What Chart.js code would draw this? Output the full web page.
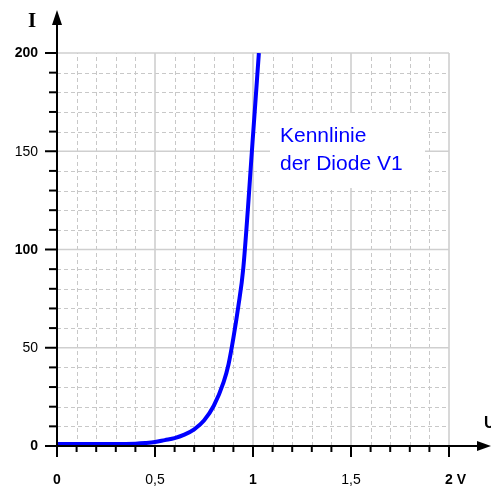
<!DOCTYPE html>
<html>
<head>
<meta charset="utf-8">
<script src="https://cdn.jsdelivr.net/npm/chart.js@4/dist/chart.umd.min.js"></script>
<style>
html,body{margin:0;padding:0;background:#fff;}
#wrap{width:491px;height:486px;position:relative;}
</style>
</head>
<body>
<div id="wrap"><canvas id="c" width="491" height="486"></canvas></div>
<script>
// Data
const voltage = [0, 0.1, 0.2, 0.3, 0.4, 0.45, 0.5, 0.55, 0.6, 0.65, 0.7, 0.75, 0.8, 0.85, 0.875, 0.9, 0.925, 0.95, 1.0, 1.03];
const current = [1, 1, 1, 1, 1.2, 1.5, 2, 3, 4, 5.8, 8.5, 13, 20.5, 32.5, 41.5, 55, 71, 90, 158, 200];
const xTickValues = [0, 0.5, 1, 1.5, 2];
const xTickLabels = ['0', '0,5', '1', '1,5', '2 V'];
const xTickBold = [true, false, true, false, true];
const yTickValues = [0, 50, 100, 150, 200];
const yTickLabels = ['0', '50', '100', '150', '200'];
const yTickBold = [true, false, true, false, true];
const annotationLines = ['Kennlinie', 'der Diode V1'];
const yAxisTitle = 'I';
const xAxisTitle = 'U';

const FONT = '"Liberation Sans", Arial, sans-serif';

const decor = {
  id: 'decor',
  beforeDatasetsDraw(chart) {
    const ctx = chart.ctx;
    const xs = chart.scales.x, ys = chart.scales.y;
    const x0 = xs.getPixelForValue(0), x2 = xs.getPixelForValue(2);
    const y0 = ys.getPixelForValue(0), y200 = ys.getPixelForValue(200);
    ctx.save();
    // minor dashed grid
    ctx.strokeStyle = '#c8c8c8';
    ctx.lineWidth = 1;
    ctx.setLineDash([4, 3]);
    for (let i = 1; i < 20; i++) {
      if (i % 5 === 0) continue;
      const px = Math.round(xs.getPixelForValue(i / 10)) + 0.5;
      ctx.beginPath(); ctx.moveTo(px, y0); ctx.lineTo(px, y200); ctx.stroke();
    }
    for (let v = 10; v < 200; v += 10) {
      if (v % 50 === 0) continue;
      const py = Math.round(ys.getPixelForValue(v)) + 0.5;
      ctx.beginPath(); ctx.moveTo(x0, py); ctx.lineTo(x2, py); ctx.stroke();
    }
    // major solid grid
    ctx.setLineDash([]);
    ctx.strokeStyle = '#cfcfcf';
    ctx.lineWidth = 1.6;
    xTickValues.forEach(v => {
      if (v === 0) return;
      const px = xs.getPixelForValue(v);
      ctx.beginPath(); ctx.moveTo(px, y0); ctx.lineTo(px, y200); ctx.stroke();
    });
    yTickValues.forEach(v => {
      if (v === 0) return;
      const py = ys.getPixelForValue(v);
      ctx.beginPath(); ctx.moveTo(x0, py); ctx.lineTo(x2, py); ctx.stroke();
    });
    // white box behind annotation
    ctx.fillStyle = '#ffffff';
    ctx.fillRect(270, 113, 155, 75);
    ctx.restore();
  },
  afterDatasetsDraw(chart) {
    const ctx = chart.ctx;
    const xs = chart.scales.x, ys = chart.scales.y;
    const x0 = xs.getPixelForValue(0);
    const y0 = ys.getPixelForValue(0);
    ctx.save();
    ctx.strokeStyle = '#000';
    ctx.fillStyle = '#000';
    ctx.lineWidth = 2;
    // y axis
    ctx.beginPath(); ctx.moveTo(x0, y0 + 11); ctx.lineTo(x0, 22); ctx.stroke();
    ctx.beginPath(); ctx.moveTo(x0, 10); ctx.lineTo(x0 - 5, 25); ctx.lineTo(x0 + 5, 25); ctx.closePath(); ctx.fill();
    // x axis
    ctx.beginPath(); ctx.moveTo(x0, y0); ctx.lineTo(482, y0); ctx.stroke();
    ctx.beginPath(); ctx.moveTo(491, y0); ctx.lineTo(477, y0 - 5); ctx.lineTo(477, y0 + 5); ctx.closePath(); ctx.fill();
    // x ticks
    for (let i = 0; i <= 20; i++) {
      const px = xs.getPixelForValue(i / 10);
      const len = (i % 5 === 0) ? 11 : 6;
      ctx.beginPath(); ctx.moveTo(px, y0); ctx.lineTo(px, y0 + len); ctx.stroke();
    }
    // y ticks
    for (let v = 0; v <= 200; v += 10) {
      const py = ys.getPixelForValue(v);
      const len = (v % 50 === 0) ? 12 : 8;
      ctx.beginPath(); ctx.moveTo(x0, py); ctx.lineTo(x0 - len, py); ctx.stroke();
    }
    // labels
    ctx.textBaseline = 'middle';
    xTickValues.forEach((v, i) => {
      ctx.font = (xTickBold[i] ? 'bold ' : '') + '14px ' + FONT;
      const px = xs.getPixelForValue(v);
      const lab = xTickLabels[i];
      if (lab.indexOf(' ') > 0) {
        const first = lab.split(' ')[0];
        const w = ctx.measureText(first).width;
        ctx.textAlign = 'left';
        ctx.fillText(lab, px - w / 2, 480);
      } else {
        ctx.textAlign = 'center';
        ctx.fillText(lab, px, 480);
      }
    });
    ctx.textAlign = 'right';
    yTickValues.forEach((v, i) => {
      ctx.font = (yTickBold[i] ? 'bold ' : '') + '14px ' + FONT;
      ctx.fillText(yTickLabels[i], 38, ys.getPixelForValue(v) + 0.5);
    });
    // axis titles
    ctx.textBaseline = 'alphabetic';
    ctx.textAlign = 'center';
    ctx.font = 'bold 21px "Liberation Serif", "Times New Roman", serif';
    ctx.fillText(yAxisTitle, 32, 27);
    ctx.textAlign = 'left';
    ctx.font = 'bold 16px ' + FONT;
    ctx.fillText(xAxisTitle, 484, 428);
    // annotation
    ctx.fillStyle = '#0000ff';
    ctx.font = '21px ' + FONT;
    ctx.fillText(annotationLines[0], 280, 142);
    ctx.fillText(annotationLines[1], 280, 170);
    ctx.restore();
  }
};

new Chart(document.getElementById('c'), {
  type: 'line',
  data: {
    datasets: [{
      data: voltage.map((v, i) => ({x: v, y: current[i]})),
      borderColor: '#0000ff',
      borderWidth: 4,
      pointRadius: 0,
      cubicInterpolationMode: 'monotone',
      fill: false,
      borderCapStyle: 'butt',
      borderJoinStyle: 'round'
    }]
  },
  options: {
    responsive: false,
    animation: false,
    events: [],
    layout: { padding: { left: 57, right: 42, top: 53, bottom: 40 } },
    plugins: { legend: { display: false }, tooltip: { enabled: false } },
    scales: {
      x: { type: 'linear', min: 0, max: 2, display: false },
      y: { type: 'linear', min: 0, max: 200, display: false }
    }
  },
  plugins: [decor]
});
</script>
</body>
</html>
